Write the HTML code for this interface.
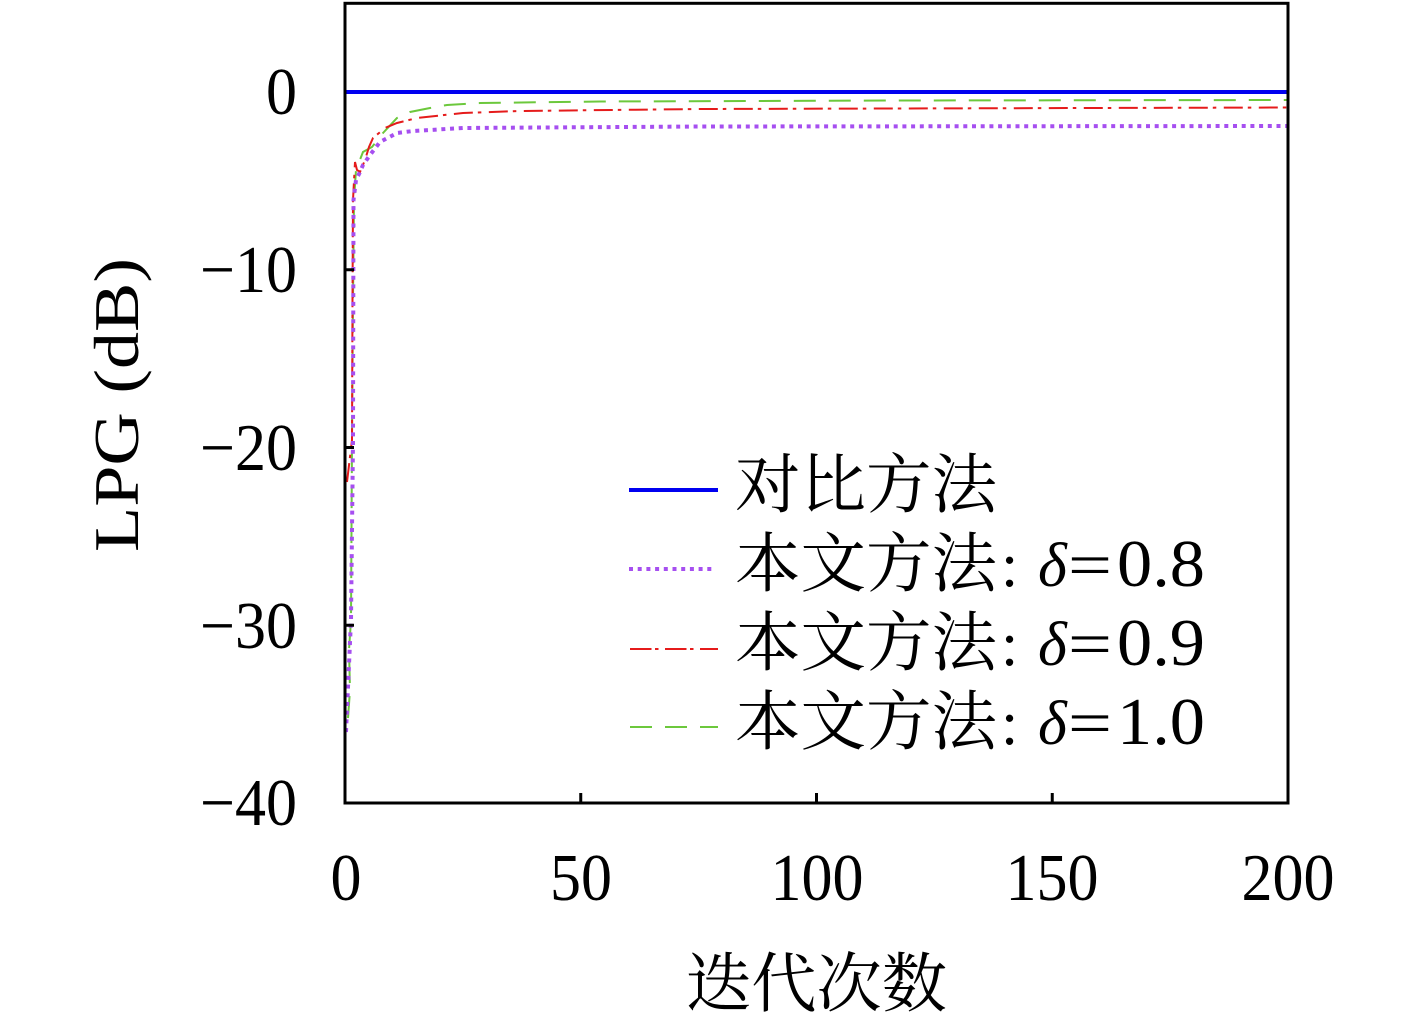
<!DOCTYPE html>
<html>
<head>
<meta charset="utf-8">
<style>
  html,body{margin:0;padding:0;background:#fff;}
  svg{display:block;}
  .tick{font-family:"Liberation Serif",serif;font-size:62px;fill:#000;}
  .cjk{font-family:"Liberation Serif","Noto Serif CJK SC","Noto Sans CJK SC",serif;font-size:65px;fill:#000;}
</style>
</head>
<body>
<svg width="1417" height="1017" viewBox="0 0 1417 1017" xmlns="http://www.w3.org/2000/svg">
  <rect x="0" y="0" width="1417" height="1017" fill="#fff"/>

  <!-- series -->
  <!-- blue reference -->
  <line x1="346" y1="92" x2="1288" y2="92" stroke="#0000f0" stroke-width="4"/>

  <!-- green delta=1.0 dashed -->
  <polyline fill="none" stroke="#6cc83c" stroke-width="2" stroke-dasharray="22 13"
    points="348,718 350,690 349,650 351,620 352,440 353,300 354,200 356,170 363,152 372,147 383,133 397,118 410,112 430,108 447,105 480,103 600,101.5 900,100.5 1288,100"/>

  <!-- red delta=0.9 dash-dot -->
  <polyline fill="none" stroke="#e51b1b" stroke-width="2" stroke-dasharray="19 5 3.5 7.5"
    points="347,482 352,440 352.5,300 353,200 355,162 357,170 360,172 365,160 369,147 373,138 385,128 397,123 417,118 463,113 520,111 700,109 1288,107.5"/>

  <!-- purple delta=0.8 dotted -->
  <polyline fill="none" stroke="#a64ff0" stroke-width="4" stroke-dasharray="4 4.7"
    points="346,732 351,620 353,440 353.5,200 356,180 360,172 363,165 370,155 380,142 397,133 413,131 463,128 700,126.5 1288,126"/>

  <!-- frame -->
  <rect x="345" y="3.3" width="943" height="799.7" fill="none" stroke="#000" stroke-width="3"/>

  <!-- y ticks -->
  <line x1="345" y1="269.75" x2="354" y2="269.75" stroke="#000" stroke-width="3"/>
  <line x1="345" y1="447.5" x2="354" y2="447.5" stroke="#000" stroke-width="3"/>
  <line x1="345" y1="625.25" x2="354" y2="625.25" stroke="#000" stroke-width="3"/>
  <!-- x ticks -->
  <line x1="580.75" y1="803" x2="580.75" y2="793" stroke="#000" stroke-width="3"/>
  <line x1="816.5" y1="803" x2="816.5" y2="793" stroke="#000" stroke-width="3"/>
  <line x1="1052.25" y1="803" x2="1052.25" y2="793" stroke="#000" stroke-width="3"/>

  <!-- y tick labels -->
  <g class="tick" text-anchor="end">
    <text transform="translate(297,114) scale(1,1.08)">0</text>
    <text transform="translate(297,292) scale(1,1.08)">−10</text>
    <text transform="translate(297,470) scale(1,1.08)">−20</text>
    <text transform="translate(297,648) scale(1,1.08)">−30</text>
    <text transform="translate(297,825) scale(1,1.08)">−40</text>
  </g>

  <!-- x tick labels -->
  <g class="tick" text-anchor="middle">
    <text transform="translate(346,900) scale(1,1.08)">0</text>
    <text transform="translate(581,900) scale(1,1.08)">50</text>
    <text transform="translate(817,900) scale(1,1.08)">100</text>
    <text transform="translate(1052,900) scale(1,1.08)">150</text>
    <text transform="translate(1288,900) scale(1,1.08)">200</text>
  </g>

  <!-- axis labels -->
  <text class="cjk" x="686" y="1006" textLength="261" lengthAdjust="spacingAndGlyphs">迭代次数</text>
  <text transform="translate(138,405) rotate(-90)" text-anchor="middle"
        style="font-family:'Liberation Serif',serif;font-size:64px;fill:#000;"
        textLength="294" lengthAdjust="spacingAndGlyphs">LPG (dB)</text>

  <!-- legend -->
  <line x1="629" y1="490" x2="718" y2="490" stroke="#0000f0" stroke-width="4"/>
  <line x1="629" y1="569" x2="716" y2="569" stroke="#a64ff0" stroke-width="4" stroke-dasharray="4 4.7"/>
  <line x1="630" y1="649" x2="718" y2="649" stroke="#e51b1b" stroke-width="2" stroke-dasharray="21.5 3.5 3.5 6.5"/>
  <line x1="630" y1="727" x2="718" y2="727" stroke="#6cc83c" stroke-width="2" stroke-dasharray="22 13"/>

  <text class="cjk" x="735" y="507" textLength="262" lengthAdjust="spacingAndGlyphs">对比方法</text>

  <g>
    <text class="cjk" x="735" y="586" textLength="262" lengthAdjust="spacingAndGlyphs">本文方法</text>
    <text class="tick" x="1001" y="586">:</text>
    <text class="tick" x="1038" y="586" font-style="italic">δ</text>
    <text class="tick" x="1068" y="586" textLength="44" lengthAdjust="spacingAndGlyphs">=</text>
    <text class="tick" transform="translate(1117,586) scale(1,1.08)" textLength="88" lengthAdjust="spacingAndGlyphs">0.8</text>
  </g>
  <g>
    <text class="cjk" x="735" y="665" textLength="262" lengthAdjust="spacingAndGlyphs">本文方法</text>
    <text class="tick" x="1001" y="665">:</text>
    <text class="tick" x="1038" y="665" font-style="italic">δ</text>
    <text class="tick" x="1068" y="665" textLength="44" lengthAdjust="spacingAndGlyphs">=</text>
    <text class="tick" transform="translate(1117,665) scale(1,1.08)" textLength="88" lengthAdjust="spacingAndGlyphs">0.9</text>
  </g>
  <g>
    <text class="cjk" x="735" y="744" textLength="262" lengthAdjust="spacingAndGlyphs">本文方法</text>
    <text class="tick" x="1001" y="744">:</text>
    <text class="tick" x="1038" y="744" font-style="italic">δ</text>
    <text class="tick" x="1068" y="744" textLength="44" lengthAdjust="spacingAndGlyphs">=</text>
    <text class="tick" transform="translate(1117,744) scale(1,1.08)" textLength="88" lengthAdjust="spacingAndGlyphs">1.0</text>
  </g>
</svg>
</body>
</html>
